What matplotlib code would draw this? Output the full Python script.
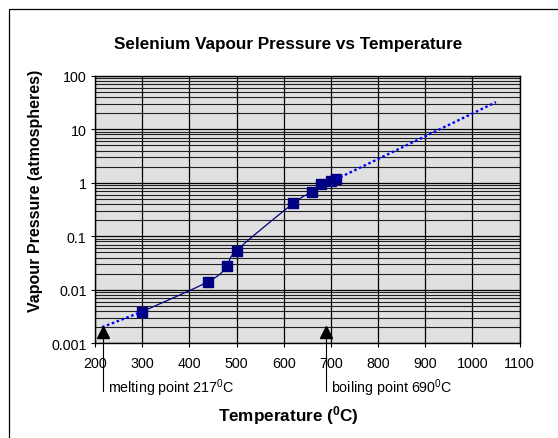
import numpy as np
import matplotlib
matplotlib.use("Agg")
import matplotlib.pyplot as plt
from matplotlib.transforms import blended_transform_factory
from matplotlib.patches import Rectangle

plt.rcParams['font.family'] = ['Liberation Sans', 'DejaVu Sans']
plt.rcParams['mathtext.fontset'] = 'custom'
plt.rcParams['mathtext.rm'] = 'Liberation Sans'
plt.rcParams['mathtext.bf'] = 'Liberation Sans:bold'

# measured data
temp = [300, 440, 480, 500, 620, 660, 680, 700, 710]
pressure = [0.0039, 0.0142, 0.0275, 0.054, 0.41, 0.67, 0.94, 1.07, 1.15]

# dotted extrapolations
low_temp = [215, 300]
low_pressure = [0.0020, 0.0039]
high_temp = [710, 1050]
high_pressure = [1.15, 32]

melting_point = 217
boiling_point = 690

x_ticks = [200, 300, 400, 500, 600, 700, 800, 900, 1000, 1100]
y_ticks = [0.001, 0.01, 0.1, 1, 10, 100]
y_ticklabels = ['0.001', '0.01', '0.1', '1', '10', '100']


def catmull_rom(x, y, n=20):
    x = np.asarray(x, float)
    y = np.asarray(y, float)
    px = np.concatenate([[2 * x[0] - x[1]], x, [2 * x[-1] - x[-2]]])
    py = np.concatenate([[2 * y[0] - y[1]], y, [2 * y[-1] - y[-2]]])
    ox, oy = [], []
    for i in range(1, len(px) - 2):
        t = np.linspace(0, 1, n, endpoint=False)
        for arr, out in ((px, ox), (py, oy)):
            p0, p1, p2, p3 = arr[i - 1], arr[i], arr[i + 1], arr[i + 2]
            out.extend(0.5 * ((2 * p1) + (-p0 + p2) * t
                              + (2 * p0 - 5 * p1 + 4 * p2 - p3) * t ** 2
                              + (-p0 + 3 * p1 - 3 * p2 + p3) * t ** 3))
    ox.append(x[-1])
    oy.append(y[-1])
    return np.array(ox), np.array(oy)


W, H = 558, 439
fig = plt.figure(figsize=(W / 100, H / 100), dpi=100)
fig.patch.set_facecolor('white')

# outer chart-area frame
fig.patches.append(Rectangle((9 / W, -0.05), 1.1, 1 - 10 / H + 0.05,
                             transform=fig.transFigure, fill=False,
                             edgecolor='black', linewidth=0.9, zorder=0))

ax = fig.add_axes([95 / W, 1 - 344.3 / H, (519.5 - 95) / W, (344.3 - 76.7) / H])
ax.set_facecolor('#e0e0e0')
ax.set_yscale('log')
ax.set_xlim(200, 1100)
ax.set_ylim(0.001, 100)

ax.set_xticks(x_ticks)
ax.set_xticklabels([str(v) for v in x_ticks])
ax.set_yticks(y_ticks)
ax.set_yticklabels(y_ticklabels)
ax.yaxis.set_minor_locator(matplotlib.ticker.LogLocator(base=10, subs=np.arange(2, 10)))
ax.yaxis.set_minor_formatter(matplotlib.ticker.NullFormatter())
ax.tick_params(axis='both', which='major', direction='out', length=3,
               width=0.8, labelsize=10.3, colors='black')
ax.tick_params(axis='x', which='major', pad=6)
ax.tick_params(axis='y', which='major', pad=3)
ax.tick_params(axis='y', which='minor', length=0)

ax.grid(True, which='major', axis='both', color='black', linewidth=0.9)
ax.grid(True, which='minor', axis='y', color='#202020', linewidth=0.8)
ax.set_axisbelow(True)
for s in ax.spines.values():
    s.set_color('black')
    s.set_linewidth(1.0)

# smoothed measured line (in log space)
sx, sy = catmull_rom(temp, np.log10(pressure))
ax.plot(sx, 10 ** sy, color='#000080', linewidth=0.9, zorder=3)
ax.plot(temp, pressure, linestyle='none', marker='s', markersize=6.5,
        color='#000080', zorder=4)

# dotted extrapolations
for tx, py in ((low_temp, low_pressure), (high_temp, high_pressure)):
    ax.plot(tx, py, color='#0000ff', linewidth=1.7,
            linestyle=(0, (1.1, 1.1)), dash_capstyle='butt', zorder=5)

# melting/boiling markers
trans = blended_transform_factory(ax.transData, ax.transAxes)
labels = {melting_point: 'melting point 217$^\\mathrm{0}$C',
          boiling_point: 'boiling point 690$^\\mathrm{0}$C'}
for T, lab in labels.items():
    ax.plot([T], [0.042], transform=trans, marker='^', markersize=8.5,
            color='black', clip_on=False, zorder=6)
    ax.plot([T, T], [0.02, -0.178], transform=trans, color='black',
            linewidth=0.8, clip_on=False, zorder=6)
    ax.annotate(lab, xy=(T, 0), xycoords=trans, xytext=(5, -43.7),
                textcoords='offset pixels', ha='left', va='center',
                fontsize=10.3, annotation_clip=False)

fig.text(288 / W, 1 - 45 / H, 'Selenium Vapour Pressure vs Temperature',
         ha='center', va='center', fontsize=12.3, fontweight='bold')
fig.text(288 / W, 1 - 416 / H, 'Temperature ($\\mathbf{^0}$C)',
         ha='center', va='center', fontsize=12.3, fontweight='bold')
fig.text(36 / W, 1 - 191 / H, 'Vapour Pressure (atmospheres)',
         ha='center', va='center', rotation=90, fontsize=11.5, fontweight='bold')

fig.savefig('out.png', dpi=100)
